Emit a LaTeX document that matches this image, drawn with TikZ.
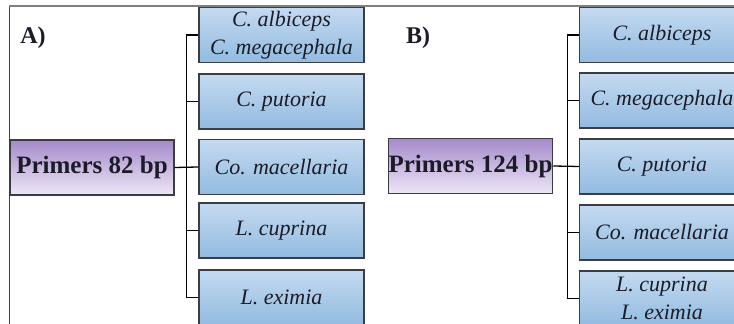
\documentclass[tikz,border=0pt]{standalone}
\usepackage{fontspec}
\setmainfont{Liberation Serif}
\usepackage{tikz}
\usetikzlibrary{positioning}
\definecolor{boxtop}{RGB}{196,218,240}
\definecolor{boxmid}{RGB}{238,244,251}
\definecolor{boxbot}{RGB}{146,187,224}
\definecolor{primtop}{RGB}{164,138,202}
\definecolor{primbot}{RGB}{238,230,247}
\definecolor{edgegray}{RGB}{60,60,68}
\definecolor{ink}{RGB}{28,28,40}
\tikzset{species/.style={rectangle, draw=edgegray, line width=0.75pt, top color=boxtop, middle color=boxmid, bottom color=boxbot, minimum width=82.5pt, minimum height=27.5pt, inner sep=0pt, align=center, text=ink, font=\fontsize{11}{14.2}\selectfont\itshape}}
\tikzset{primer/.style={rectangle, draw=edgegray, line width=0.75pt, top color=primtop, bottom color=primbot, minimum width=82pt, minimum height=27.5pt, inner sep=0pt, text=ink, font=\fontsize{12.5}{14}\selectfont\bfseries}, panel/.style={text=ink, font=\fontsize{12}{14}\selectfont\bfseries}, branch/.style={line width=0.65pt, black}}

\begin{document}
\begin{tikzpicture}[x=0.5pt, y=-0.5pt]
            \useasboundingbox (0,0) rectangle (734,324);
            \clip (0,0) rectangle (734,324);
            \draw[line width=0.5pt, edgegray](9,6)--(9,324);
            \draw[line width=1pt, gray](9,6)--(734,6);
            \node[panel] (labA) at (33,38) {A)};
            \node[panel] (labB) at (418,38) {B)};
            \node[primer] (p82) at (92,167.5) {Primers 82 bp};
            \node[species] (a1) at (281.5,35) {C. albiceps\\C. megacephala};
            \node[species] (a2) at (281.5,101.5) {C. putoria};
            \node[species] (a3) at (281.5,167) {Co. macellaria};
            \node[species] (a4) at (281.5,230.5) {L. cuprina};
            \node[species] (a5) at (281.5,297.5) {L. eximia};
            \draw[branch](a1.west)--++(-12,0)|-(a5.west);
            \draw[branch](a2.west)--++(-12,0);
            \draw[branch](a4.west)--++(-12,0);
            \draw[branch](p82.east)--(a3.west);
            \node[primer] (p124) at (470.5,166) {Primers 124 bp};
            \node[species] (b1) at (662,35) {C. albiceps};
            \node[species] (b2) at (662,100.5) {C. megacephala};
            \node[species] (b3) at (662,166.5) {C. putoria};
            \node[species] (b4) at (662,232.5) {Co. macellaria};
            \node[species] (b5) at (662,298.5) {L. cuprina\\L. eximia};
            \draw[branch](b1.west)--++(-11,0)|-(b5.west);
            \draw[branch](b2.west)--++(-11,0);
            \draw[branch](b4.west)--++(-11,0);
            \draw[branch](p124.east)--(b3.west);
        \end{tikzpicture}
\end{document}
